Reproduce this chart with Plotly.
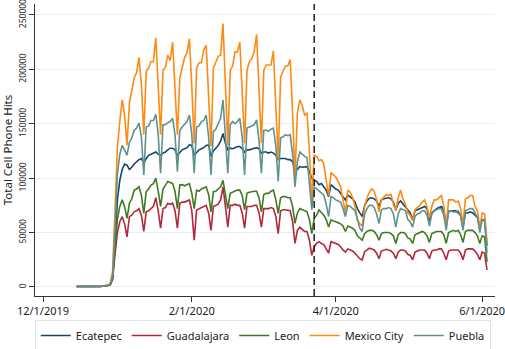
import pandas as pd
import plotly.graph_objects as go

# Daily dates 12/15/2019 .. 6/3/2020 (172 days)
dates = pd.date_range("2019-12-15", periods=172, freq="D")

series_names = ["Ecatepec", "Guadalajara", "Leon", "Mexico City", "Puebla"]

ecatepec = [
    400, 500, 600, 500, 600, 700, 500,
    500, 600, 700, 500, 700, 900, 1300,
    2000, 8000, 38000, 80000, 98000, 108000, 113000,
    112000, 108000, 110000, 113000, 115000, 117000, 118000,
    113700, 118000, 121000, 122000, 123000, 124000, 122000,
    121000, 123000, 124000, 126000, 127500, 127500, 126000,
    121000, 124000, 126000, 127000, 128000, 130500, 130000,
    121000, 124000, 126000, 127000, 128000, 130000, 130500,
    120000, 125000, 127500, 130000, 134000, 141000, 132000,
    126000, 127500, 127000, 128000, 129000, 129000, 127000,
    124000, 126000, 126000, 127000, 127500, 128000, 127000,
    123000, 124000, 124000, 123000, 124000, 123000, 121000,
    117000, 118000, 118000, 118000, 117000, 117000, 115000,
    107500, 108000, 110600, 110000, 110600, 110600, 106000,
    100000, 98000, 97000, 94000, 95000, 92000, 89000,
    83000, 94000, 92000, 90000, 89000, 86000, 84000,
    80000, 84500, 83000, 81000, 78000, 72000, 68000,
    64600, 75000, 79000, 81500, 82000, 81000, 79000,
    74000, 80000, 81000, 81500, 82000, 81000, 78000,
    70800, 77000, 79000, 76000, 74000, 70000, 68000,
    62000, 70000, 71000, 72000, 73000, 74000, 72000,
    61000, 68000, 70000, 72000, 73000, 74000, 71000,
    57000, 69000, 70000, 70000, 70000, 68000, 66000,
    55000, 68000, 68000, 69000, 68000, 66000, 64000,
    55000, 62000, 61000, 38000,
]

guadalajara = [
    400, 500, 600, 500, 600, 700, 500,
    500, 600, 700, 500, 700, 900, 1300,
    2000, 7000, 30000, 50000, 60000, 64600, 58000,
    46000, 64600, 66000, 69000, 70000, 72000, 66000,
    51000, 69000, 70000, 72000, 74000, 82000, 70000,
    54000, 72000, 73000, 77000, 76000, 77000, 70000,
    54000, 77000, 78000, 78000, 79000, 80000, 70000,
    43000, 70800, 72000, 73000, 74000, 75000, 68000,
    52000, 74000, 75000, 76000, 80000, 92000, 74000,
    55000, 75000, 75000, 76000, 75000, 75000, 68000,
    54000, 74000, 74000, 74000, 75000, 75000, 68000,
    55000, 72000, 72000, 72000, 73000, 72000, 65000,
    49000, 70000, 71000, 71000, 70800, 70000, 60000,
    40000, 52000, 55000, 53000, 51000, 51000, 43000,
    29000, 37000, 40000, 41600, 40000, 39000, 35000,
    31000, 41600, 41000, 40000, 39000, 37000, 34000,
    32000, 35000, 34000, 33000, 31000, 28000, 26000,
    24800, 32400, 34000, 35600, 35000, 34000, 31000,
    26000, 33000, 34000, 34600, 34000, 33000, 31000,
    26000, 32000, 34000, 34000, 33000, 30000, 29000,
    25000, 32000, 33000, 34000, 34000, 34000, 31000,
    26000, 33000, 34000, 34000, 35000, 35000, 31000,
    25000, 33000, 34000, 34000, 34000, 34000, 31000,
    25000, 34000, 35000, 35000, 35000, 33000, 30000,
    25000, 32000, 31000, 15600,
]

leon = [
    400, 500, 600, 500, 600, 700, 500,
    500, 600, 700, 500, 700, 900, 1300,
    2000, 8000, 36000, 62000, 74000, 80000, 74000,
    63000, 77000, 81000, 89000, 90000, 92000, 84000,
    67700, 87600, 90000, 93700, 95000, 100000, 88000,
    74000, 90000, 93000, 97000, 96000, 95000, 88000,
    72000, 93700, 94000, 93000, 94000, 95000, 86000,
    72000, 89000, 88000, 90000, 91000, 92000, 85000,
    69000, 87600, 88000, 90000, 92000, 98000, 86000,
    72000, 86000, 87000, 88000, 89000, 89000, 84000,
    70800, 86000, 87000, 87600, 88000, 88000, 82000,
    69000, 85000, 86000, 86000, 88000, 89000, 80000,
    67700, 82000, 83000, 83000, 82000, 82000, 74000,
    58500, 68000, 72000, 71000, 70000, 69000, 62000,
    49000, 63000, 66000, 70800, 68000, 66000, 62000,
    55000, 61600, 61000, 60000, 59000, 58000, 56000,
    51000, 56000, 55000, 54000, 52000, 47000, 45000,
    43000, 49000, 51000, 52000, 52000, 51000, 48000,
    43000, 49000, 50000, 50000, 50000, 49000, 47000,
    40000, 48000, 50000, 50000, 49000, 45000, 44000,
    40000, 48000, 49000, 50000, 51000, 50000, 47000,
    41000, 49000, 50000, 51000, 51000, 51000, 48000,
    40000, 50000, 51000, 52000, 51000, 52000, 48000,
    41000, 51000, 52000, 52000, 52000, 50000, 47000,
    40000, 47000, 46000, 23000,
]

mexico_city = [
    600, 700, 800, 700, 800, 900, 700,
    700, 800, 900, 700, 900, 1200, 1800,
    3000, 14000, 70000, 128000, 152000, 172000, 158000,
    130000, 169000, 179000, 192000, 197000, 211000, 186000,
    140000, 198000, 201000, 207000, 207000, 229000, 184000,
    140000, 199000, 202000, 213000, 208000, 225000, 182000,
    140000, 192000, 201000, 211000, 215000, 228000, 184000,
    132000, 201000, 206000, 206000, 218000, 222000, 180000,
    129000, 201000, 207000, 212000, 213000, 242000, 186000,
    130000, 199000, 203000, 216000, 216000, 225000, 182000,
    132000, 199000, 207000, 210000, 216000, 232000, 182000,
    132000, 199000, 204000, 204000, 204000, 217000, 172000,
    117000, 193000, 198000, 203000, 203000, 209000, 160000,
    101000, 160000, 172000, 167000, 158000, 160000, 125000,
    78000, 121000, 120000, 116000, 117000, 113000, 98000,
    84000, 105000, 103000, 101000, 97000, 92000, 80000,
    68000, 89000, 87000, 82000, 74000, 62000, 58000,
    56000, 74000, 82000, 87000, 90000, 88000, 80000,
    69000, 80000, 83000, 85000, 84000, 85000, 76000,
    70000, 82000, 89000, 81000, 76000, 68000, 66000,
    61000, 71000, 73000, 75000, 78000, 80000, 74000,
    63000, 74000, 80000, 80000, 82000, 84000, 74000,
    55000, 80000, 80000, 80000, 78000, 79000, 72000,
    57000, 81000, 82000, 84000, 84000, 74000, 70000,
    55000, 68000, 67000, 42000,
]

puebla = [
    500, 600, 700, 600, 700, 800, 600,
    600, 700, 800, 600, 800, 1000, 1500,
    2500, 11000, 52000, 104000, 122000, 130000, 126000,
    121000, 133000, 137000, 144000, 146000, 150500, 138000,
    103000, 147000, 148000, 153000, 153000, 158700, 140000,
    104500, 149000, 149000, 151000, 152000, 155000, 140000,
    106000, 144000, 147000, 150000, 152000, 158000, 140000,
    104500, 147000, 148000, 152000, 153000, 158000, 138000,
    103000, 143000, 145000, 150000, 155000, 172000, 140000,
    104500, 149000, 152000, 150000, 152000, 155000, 138000,
    103000, 146000, 147000, 148000, 149000, 153500, 135000,
    104500, 144000, 144000, 143000, 145000, 146000, 130000,
    97000, 137000, 138000, 140000, 139000, 140000, 122000,
    92000, 115000, 124000, 122000, 120000, 119000, 98000,
    71000, 92000, 90000, 88000, 86000, 84500, 76000,
    64600, 83000, 82000, 80000, 79000, 78000, 72000,
    64600, 75000, 74000, 72000, 70000, 62000, 54000,
    51000, 67000, 72000, 75000, 75000, 73000, 67000,
    58500, 70800, 72000, 72000, 73000, 72000, 67000,
    55000, 67000, 72000, 71000, 70000, 62000, 60000,
    55000, 65000, 67000, 68000, 70000, 70000, 66000,
    56000, 67000, 70000, 71000, 72000, 72000, 66000,
    52000, 70000, 70000, 69000, 69000, 70000, 65000,
    52000, 70000, 71000, 72000, 72000, 68000, 64000,
    50000, 62000, 62000, 31000,
]

x_tick_vals = ["2019-12-01", "2020-02-01", "2020-04-01", "2020-06-01"]
x_tick_text = ["12/1/2019", "2/1/2020", "4/1/2020", "6/1/2020"]
y_tick_vals = [0, 50000, 100000, 150000, 200000, 250000]
y_tick_text = ["0", "50000", "100000", "150000", "200000", "250000"]
event_date = "2020-03-23"

colors = ["#16466f", "#b3283a", "#3f7a20", "#ff8a12", "#5f928f"]
values = [ecatepec, guadalajara, leon, mexico_city, puebla]

fig = go.Figure()
for name, vals, col in zip(series_names, values, colors):
    fig.add_trace(go.Scatter(x=dates, y=vals, mode="lines", name=name,
                             line=dict(color=col, width=1.6)))

fig.add_shape(type="line", x0=event_date, x1=event_date, xref="x",
              y0=0, y1=1, yref="y domain",
              line=dict(color="#222222", width=1.5, dash="7px,4px"))

font_family = "Noto Sans, DejaVu Sans, sans-serif"
fig.update_layout(
    width=505, height=349,
    margin=dict(l=35, r=10, t=4, b=53, autoexpand=False),
    paper_bgcolor="white", plot_bgcolor="white",
    font=dict(family=font_family, color="#222222", size=12),
    showlegend=True,
    legend=dict(orientation="h", x=-0.0005, xanchor="left", y=-0.082, yanchor="top",
                bgcolor="white", bordercolor="#dfe6e6", borderwidth=1,
                font=dict(size=11), itemwidth=30),
)
fig.update_xaxes(
    range=["2019-11-27 16:00", "2020-06-06 08:00"],
    tickvals=x_tick_vals, ticktext=x_tick_text,
    showline=True, linecolor="#333333", linewidth=1,
    ticks="outside", ticklen=5, tickcolor="#333333",
    showgrid=False, zeroline=False, automargin=False,
    ticklabeloverflow="allow",
    tickfont=dict(size=11),
)
fig.update_yaxes(
    range=[-8300, 260000],
    tickvals=y_tick_vals, ticktext=y_tick_text, tickangle=-90,
    showline=True, linecolor="#333333", linewidth=1,
    ticks="outside", ticklen=5, tickcolor="#333333",
    showgrid=True, gridcolor="#e9f0f1", gridwidth=1,
    zeroline=False, automargin=False,
    ticklabeloverflow="allow",
    tickfont=dict(size=8.5),
    title=dict(text="Total Cell Phone Hits", font=dict(size=11.5), standoff=4),
)

fig.write_html(
    "out.html",
    config={"displayModeBar": False},
    post_script="document.body.style.margin='0';document.body.style.overflow='hidden';",
)
